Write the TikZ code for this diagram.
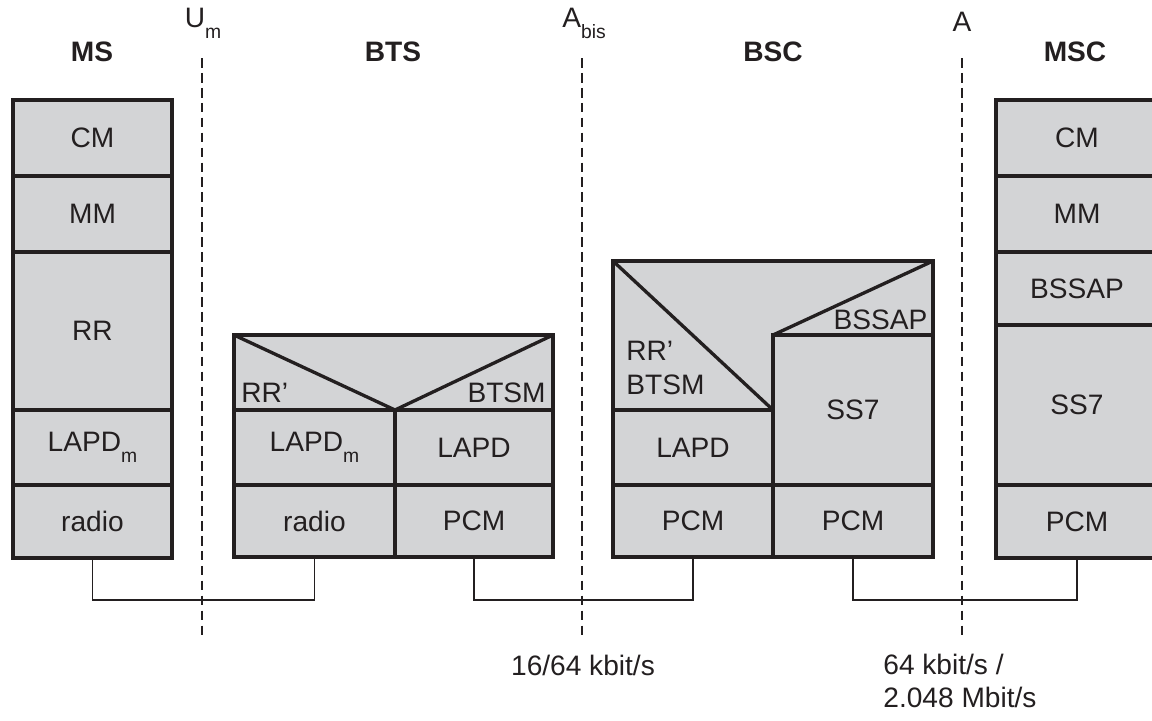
\documentclass[tikz,border=0pt]{standalone}
\usepackage{fontspec}
\setmainfont{Liberation Sans}
\usepackage{tikz}
\usetikzlibrary{positioning,calc}
\definecolor{layergray}{RGB}{211,212,214}
\definecolor{inkdark}{RGB}{35,31,32}
\newcommand\subtxt[1]{\raisebox{-0.75ex}{\fontsize{11}{12}\selectfont #1}}
\tikzset{
  wh/.style 2 args={minimum width=#1*0.02cm, minimum height=#2*0.02cm},
  cell/.style={rectangle, draw=inkdark, line width=1.9pt, fill=layergray,
               inner sep=0pt, outer sep=0pt, align=center, text=inkdark,
               font=\fontsize{16}{19}\selectfont},
  lbl/.style={inner sep=4pt, text=inkdark, font=\fontsize{16}{19}\selectfont},
  head/.style={lbl, font=\fontsize{16}{19}\selectfont\bfseries},
  ifline/.style={draw=inkdark, line width=0.8pt, dash pattern=on 5.5pt off 3pt},
  link/.style={draw=inkdark, line width=0.8pt},
}
\begin{document}
\begin{tikzpicture}[x=0.02cm, y=-0.02cm, node distance=0pt]
  \useasboundingbox (0,0) rectangle (1152,720);
  \clip (0,0) rectangle (1152,720);
  % interfaces
  \node[lbl] (um)   at (203,23) {U\subtxt{m}};
  \node[lbl] (abis) at (584,23) {A\subtxt{bis}};
  \node[lbl] (aif)  at (962,22) {A};
  \coordinate (umtop) at (202,58);   \coordinate (umbot) at (202,640);
  \coordinate (abtop) at (582,58);   \coordinate (abbot) at (582,640);
  \coordinate (atop)  at (962,58);   \coordinate (abot)  at (962,640);
  \draw[ifline] (umtop) -- (umbot);
  \draw[ifline] (abtop) -- (abbot);
  \draw[ifline] (atop) -- (abot);
  % headers
  \node[head] at (92,52)   {MS};
  \node[head] at (393,52)  {BTS};
  \node[head] at (773,52)  {BSC};
  \node[head] at (1075,52) {MSC};
  % MS stack
  \node[cell, wh={159}{76}] (mscm) at (92.5,138) {CM};
  \node[cell, wh={159}{76},  below=of mscm]    (msmm)    {MM};
  \node[cell, wh={159}{158}, below=of msmm]    (msrr)    {RR};
  \node[cell, wh={159}{75},  below=of msrr]    (mslapdm) {LAPD\subtxt{m}};
  \node[cell, wh={159}{73},  below=of mslapdm] (msradio) {radio};
  % BTS
  \node[cell, wh={319}{222}] (btsbox) at (393.5,446) {};
  \node[cell, wh={161}{72}, anchor=south west] (btsradio) at (btsbox.south west) {radio};
  \node[cell, wh={161}{75}, above=of btsradio] (btslapdm) {LAPD\subtxt{m}};
  \node[cell, wh={158}{72}, right=of btsradio] (btspcm)   {PCM};
  \node[cell, wh={158}{75}, above=of btspcm]   (btslapd)  {LAPD};
  \draw[cell, fill=none] (btsbox.north west) -- (btslapdm.north east) -- (btsbox.north east);
  \node[lbl, anchor=south west] at (btslapdm.north west) {RR’};
  \node[lbl, anchor=south east] at (btslapd.north east)  {BTSM};
  % BSC
  \node[cell, wh={320}{296}] (bscbox) at (773,409) {};
  \node[cell, wh={160}{72}, anchor=south west] (bscpcma) at (bscbox.south west) {PCM};
  \node[cell, wh={160}{75}, above=of bscpcma]  (bsclapd) {LAPD};
  \node[cell, wh={160}{72}, right=of bscpcma]  (bscpcmb) {PCM};
  \node[cell, wh={160}{150}, above=of bscpcmb] (bscss7)  {SS7};
  \draw[cell, fill=none] (bscbox.north west) -- (bsclapd.north east);
  \draw[cell, fill=none] (bscss7.north west) -- (bscbox.north east);
  \node[lbl, align=left, anchor=south west, inner sep=0pt]
        at ($(bsclapd.north west)+(13,-15)$) {RR’\\BTSM};
  \node[lbl, anchor=south east, inner sep=3pt] at (bscss7.north east) {BSSAP};
  % MSC stack
  \node[cell, wh={162}{76}] (msccm) at (1077,138) {CM};
  \node[cell, wh={162}{76},  below=of msccm]    (mscmm)    {MM};
  \node[cell, wh={162}{73},  below=of mscmm]    (mscbssap) {BSSAP};
  \node[cell, wh={162}{160}, below=of mscbssap] (mscss7)   {SS7};
  \node[cell, wh={162}{73},  below=of mscss7]   (mscpcm)   {PCM};
  % physical links
  \draw[link] (msradio.south) -- ++(0,42) -| (btsradio.south);
  \draw[link] (btspcm.south)  -- ++(0,43) -| (bscpcma.south);
  \draw[link] (bscpcmb.south) -- ++(0,43) -| (mscpcm.south);
  % rates
  \node[lbl] (rateabis) at (583,665) {16/64 kbit/s};
  \node[lbl, align=left, anchor=west] (ratea) at (876,681) {64 kbit/s /\\2.048 Mbit/s};
\end{tikzpicture}
\end{document}
